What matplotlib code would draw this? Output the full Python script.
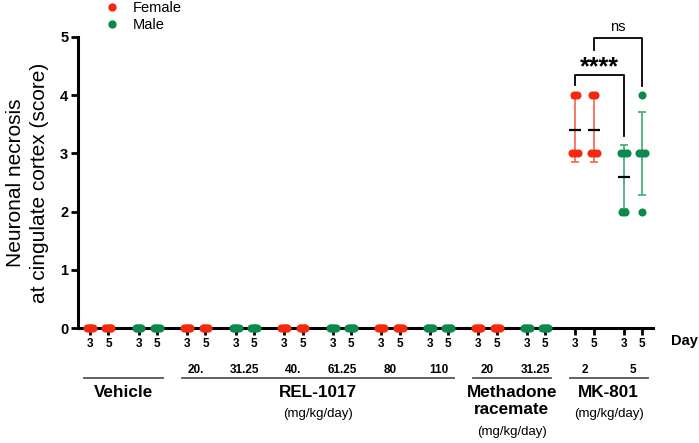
import numpy as np
import matplotlib
matplotlib.use("Agg")
import matplotlib.pyplot as plt
from matplotlib.lines import Line2D
from matplotlib.transforms import blended_transform_factory

plt.rcParams['font.family'] = ['Liberation Sans', 'DejaVu Sans']

# ---- data -------------------------------------------------------------
days = [3, 5]
sexes = ['F', 'M', 'F', 'M', 'F', 'M', 'F', 'M', 'F', 'M', 'F', 'M']
doses = ['', '', '20.', '31.25', '40.', '61.25', '80', '110', '20', '31.25', '2', '5']
zeros = [0, 0, 0, 0, 0]
# scores[pair][day index]
scores = [[zeros, zeros] for _ in range(10)]
scores.append([[4, 4, 3, 3, 3], [4, 4, 3, 3, 3]])   # MK-801 2 mg/kg, female
scores.append([[3, 3, 3, 2, 2], [4, 3, 3, 3, 2]])   # MK-801 5 mg/kg, male
groups = ['Vehicle', 'REL-1017', 'Methadone\nracemate', 'MK-801']
group_pairs = [(0, 1), (2, 7), (8, 9), (10, 11)]
group_units = [False, True, True, True]

red, green = '#f5290f', '#0b8a4c'
red_bar, green_bar = '#f4705c', '#4daf7f'
PAIR = 2.63

fig = plt.figure(figsize=(6.99, 4.43), dpi=100)
ax = fig.add_axes([78 / 699, 1 - 328 / 443, 575 / 699, 291 / 443])
W, H = 699, 443


def fy(p):
    return 1 - p / H


def xpos(i, j):
    return i * PAIR + j


for i, pair in enumerate(scores):
    col = red if sexes[i] == 'F' else green
    bcol = red_bar if sexes[i] == 'F' else green_bar
    for j, vals in enumerate(pair):
        x0 = xpos(i, j)
        vals = np.array(vals, dtype=float)
        mean, sd = vals.mean(), vals.std(ddof=1)
        if sd > 0:
            ax.errorbar(x0, mean, yerr=sd, color=bcol, lw=1.3, capsize=3,
                        capthick=1.3, zorder=2, clip_on=False)
            ax.hlines(mean, x0 - 0.33, x0 + 0.33, color='black', lw=1.6, zorder=3)
        for v in np.unique(vals):
            k = int((vals == v).sum())
            half = min(0.08 * (k - 1), 0.16)
            xs = np.linspace(x0 - half, x0 + half, k)
            ax.scatter(xs, [v] * k, s=34, color=col, zorder=4, clip_on=False,
                       linewidths=0)

ax.set_ylim(0, 5)
ax.set_xlim(-12 / 18.45, 563 / 18.45)
ax.set_yticks(range(6))
ax.set_yticklabels([str(v) for v in range(6)], fontsize=10.5, fontweight='bold')
xt = [xpos(i, j) for i in range(len(scores)) for j in range(2)]
ax.set_xticks(xt)
ax.set_xticklabels([str(d) for _ in scores for d in days], fontsize=8.5,
                   fontweight='bold')
ax.tick_params(axis='both', length=5, width=2, direction='out', pad=2)
for s in ['top', 'right']:
    ax.spines[s].set_visible(False)
for s in ['left', 'bottom']:
    ax.spines[s].set_linewidth(2.2)
ax.set_ylabel('Neuronal necrosis\nat cingulate cortex (score)', fontsize=15,
              linespacing=1.35, labelpad=8)

# significance brackets
ax.plot([xpos(10, 0)] * 2 + [xpos(11, 0)] * 2, [4.18, 4.35, 4.35, 3.30],
        color='black', lw=1.3, clip_on=False)
ax.text((xpos(10, 0) + xpos(11, 0)) / 2, 4.28, '****', ha='center',
        va='bottom', fontsize=18, fontweight='bold')
ax.plot([xpos(10, 1)] * 2 + [xpos(11, 1)] * 2, [4.78, 4.98, 4.98, 4.16],
        color='black', lw=1.3, clip_on=False)
ax.text((xpos(10, 1) + xpos(11, 1)) / 2, 5.06, 'ns', ha='center',
        va='bottom', fontsize=10.5)

# labels below axis
tr = blended_transform_factory(ax.transData, fig.transFigure)
fig.text(684 / W, fy(341), 'Day', ha='center', va='center', fontsize=10.5,
         fontweight='bold')
for i, d in enumerate(doses):
    if d:
        ax.text(xpos(i, 0.5), fy(370), d, transform=tr, ha='center',
                va='center', fontsize=8.5, fontweight='bold')
for g, (a, b), unit in zip(groups, group_pairs, group_units):
    x1, x2 = xpos(a, 0) - 0.3, xpos(b, 1) + 0.3
    ax.plot([x1, x2], [fy(378)] * 2, transform=tr, color='#555555', lw=1.3,
            clip_on=False)
    xc = (x1 + x2) / 2
    n_lines = g.count('\n') + 1
    ax.text(xc, fy(385), g, transform=tr, ha='center', va='top', fontsize=12.3,
            fontweight='bold', linespacing=1.2)
    if unit:
        ytop = 408 if n_lines == 1 else 426
        ax.text(xc, fy(ytop), '(mg/kg/day)', transform=tr, ha='center',
                va='top', fontsize=9.5)

handles = [Line2D([], [], marker='o', ls='', color=red, markersize=6, mew=0),
           Line2D([], [], marker='o', ls='', color=green, markersize=6, mew=0)]
fig.legend(handles, ['Female', 'Male'], loc='upper left',
           bbox_to_anchor=(90 / W, 1.028), frameon=False, fontsize=10.5,
           handletextpad=0.85, labelspacing=0.25, handlelength=1.2)

fig.savefig('out.png', dpi=100)
